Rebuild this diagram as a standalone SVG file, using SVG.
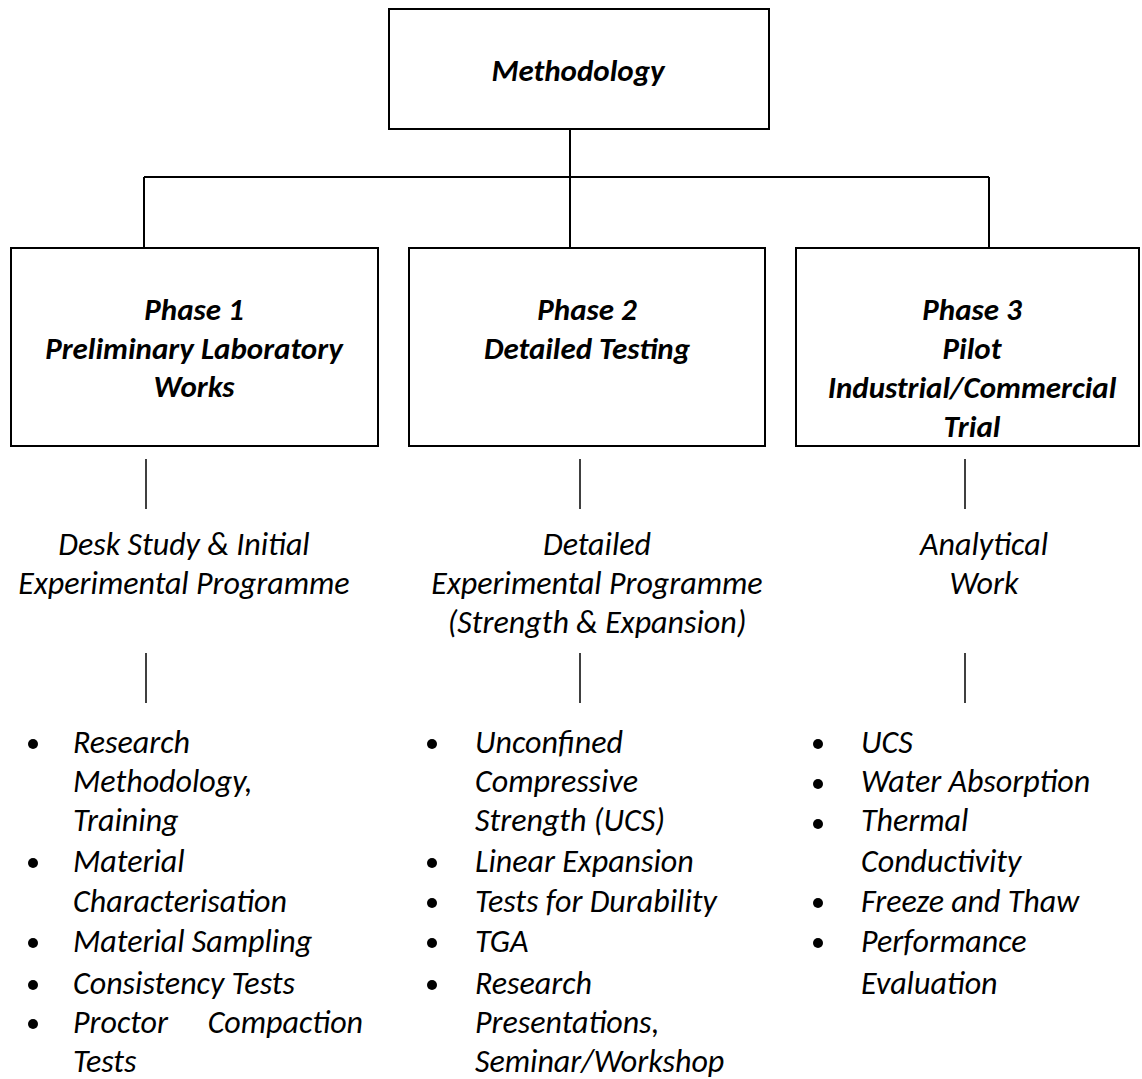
<svg xmlns="http://www.w3.org/2000/svg" width="1142" height="1079" viewBox="0 0 1142 1079">
<style>
  .box { fill: #ffffff; stroke: #000000; stroke-width: 2; }
  .conn { stroke: #000000; stroke-width: 2; fill: none; }
  .thin { stroke: #000000; stroke-width: 1.5; fill: none; }
  .hb { font-family: Carlito, Calibri, Lato, "Open Sans", sans-serif; font-weight: bold; font-style: italic; font-size: 31px; fill: #000; text-anchor: middle; }
  .mid { font-family: Carlito, Calibri, Lato, "Open Sans", sans-serif; font-style: italic; font-size: 32px; fill: #000; text-anchor: middle; }
  .li { font-family: Carlito, Calibri, Lato, "Open Sans", sans-serif; font-style: italic; font-size: 32px; fill: #000; }
  .dot { fill: #000; }
</style>
<rect width="1142" height="1079" fill="#ffffff"/>
<g id="connectors">
  <line class="conn" x1="570" y1="130" x2="570" y2="248"/>
  <line class="conn" x1="144" y1="177" x2="989" y2="177"/>
  <line class="conn" x1="144" y1="177" x2="144" y2="248"/>
  <line class="conn" x1="989" y1="177" x2="989" y2="248"/>
  <line class="thin" x1="146" y1="459" x2="146" y2="509"/>
  <line class="thin" x1="580" y1="459" x2="580" y2="509"/>
  <line class="thin" x1="965" y1="459" x2="965" y2="509"/>
  <line class="thin" x1="146" y1="653" x2="146" y2="703"/>
  <line class="thin" x1="580" y1="653" x2="580" y2="703"/>
  <line class="thin" x1="965" y1="653" x2="965" y2="703"/>
</g>
<g id="methodology">
  <rect class="box" x="389" y="9" width="380" height="120"/>
  <text class="hb" x="578" y="81">Methodology</text>
</g>
<g id="phase1">
  <rect class="box" x="11" y="248" width="367" height="198"/>
  <text class="hb" x="194" y="320">Phase 1</text>
  <text class="hb" x="194" y="359">Preliminary Laboratory</text>
  <text class="hb" x="194" y="397">Works</text>
</g>
<g id="phase2">
  <rect class="box" x="409" y="248" width="356" height="198"/>
  <text class="hb" x="587" y="320">Phase 2</text>
  <text class="hb" x="587" y="359">Detailed Testing</text>
</g>
<g id="phase3">
  <rect class="box" x="796" y="248" width="343" height="198"/>
  <text class="hb" x="972" y="320">Phase 3</text>
  <text class="hb" x="972" y="359">Pilot</text>
  <text class="hb" x="972" y="398">Industrial/Commercial</text>
  <text class="hb" x="972" y="437">Trial</text>
</g>
<g id="stage1">
  <text class="mid" x="184" y="555">Desk Study &amp; Initial</text>
  <text class="mid" x="184" y="594">Experimental Programme</text>
</g>
<g id="stage2">
  <text class="mid" x="597" y="555">Detailed</text>
  <text class="mid" x="597" y="594">Experimental Programme</text>
  <text class="mid" x="597" y="633">(Strength &amp; Expansion)</text>
</g>
<g id="stage3">
  <text class="mid" x="984" y="555">Analytical</text>
  <text class="mid" x="984" y="594">Work</text>
</g>
<g id="list1">
  <circle class="dot" cx="33" cy="744" r="5"/>
  <circle class="dot" cx="33" cy="863" r="5"/>
  <circle class="dot" cx="33" cy="943" r="5"/>
  <circle class="dot" cx="33" cy="985" r="5"/>
  <circle class="dot" cx="33" cy="1024" r="5"/>
  <text class="li" x="73" y="753">Research</text>
  <text class="li" x="73" y="792">Methodology,</text>
  <text class="li" x="73" y="831">Training</text>
  <text class="li" x="73" y="872">Material</text>
  <text class="li" x="73" y="912">Characterisation</text>
  <text class="li" x="73" y="952">Material Sampling</text>
  <text class="li" x="73" y="994">Consistency Tests</text>
  <text class="li" x="73" y="1033">Proctor</text>
  <text class="li" x="363" y="1033" text-anchor="end">Compaction</text>
  <text class="li" x="73" y="1072">Tests</text>
</g>
<g id="list2">
  <circle class="dot" cx="432" cy="744" r="5"/>
  <circle class="dot" cx="432" cy="863" r="5"/>
  <circle class="dot" cx="432" cy="903" r="5"/>
  <circle class="dot" cx="432" cy="943" r="5"/>
  <circle class="dot" cx="432" cy="985" r="5"/>
  <text class="li" x="475" y="753">Unconfined</text>
  <text class="li" x="475" y="792">Compressive</text>
  <text class="li" x="475" y="831">Strength (UCS)</text>
  <text class="li" x="475" y="872">Linear Expansion</text>
  <text class="li" x="475" y="912">Tests for Durability</text>
  <text class="li" x="475" y="952">TGA</text>
  <text class="li" x="475" y="994">Research</text>
  <text class="li" x="475" y="1033">Presentations,</text>
  <text class="li" x="475" y="1072">Seminar/Workshop</text>
</g>
<g id="list3">
  <circle class="dot" cx="818" cy="744" r="5"/>
  <circle class="dot" cx="818" cy="784" r="5"/>
  <circle class="dot" cx="818" cy="824" r="5"/>
  <circle class="dot" cx="818" cy="903" r="5"/>
  <circle class="dot" cx="818" cy="943" r="5"/>
  <text class="li" x="861" y="753">UCS</text>
  <text class="li" x="861" y="792">Water Absorption</text>
  <text class="li" x="861" y="831">Thermal</text>
  <text class="li" x="861" y="872">Conductivity</text>
  <text class="li" x="861" y="912">Freeze and Thaw</text>
  <text class="li" x="861" y="952">Performance</text>
  <text class="li" x="861" y="994">Evaluation</text>
</g>
</svg>
